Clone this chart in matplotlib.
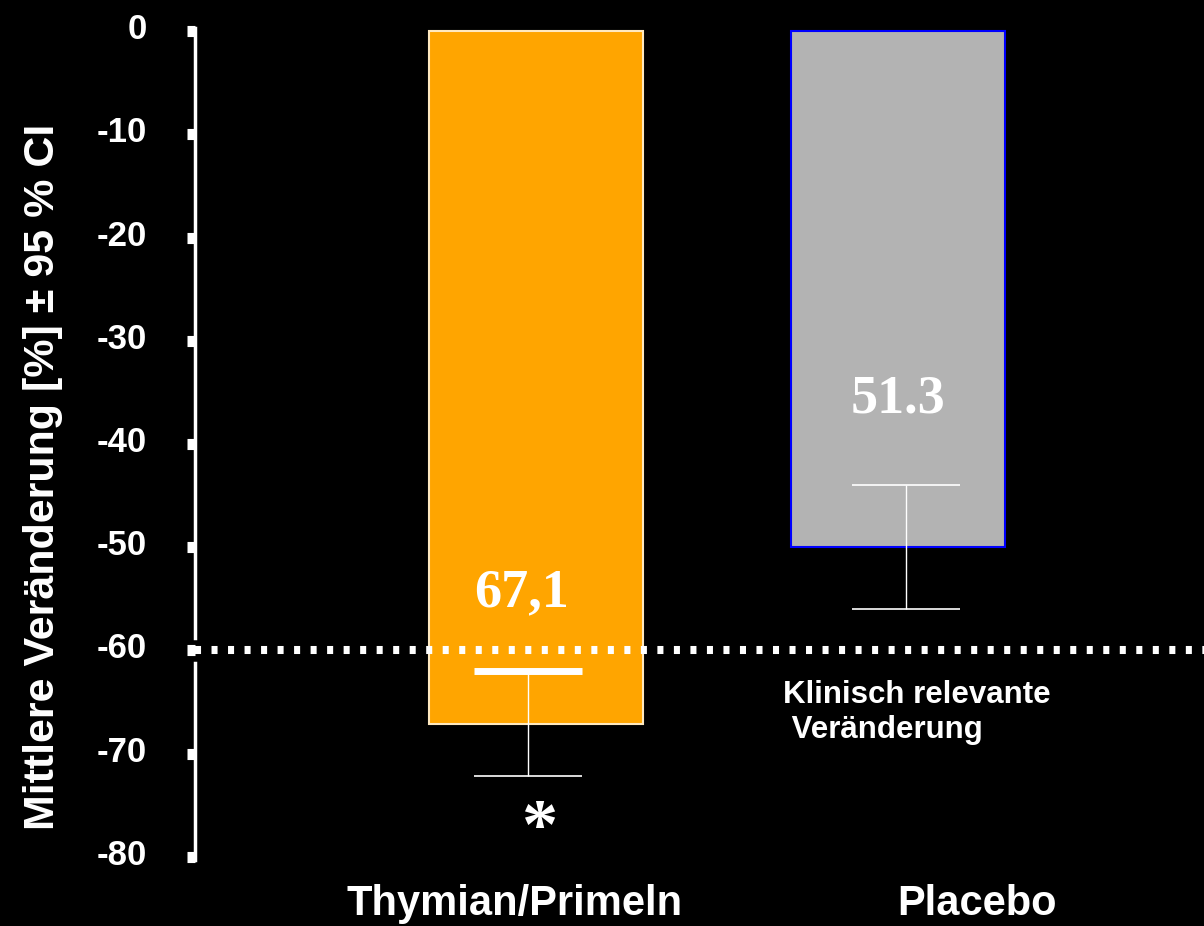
import matplotlib
matplotlib.use('Agg')
import matplotlib.pyplot as plt
import matplotlib.transforms as mtransforms

# data
groups = ['Thymian/Primeln', 'Placebo']
means = [-67.1, -50.0]
ci_high = [-62.0, -44.0]
ci_low = [-72.2, -56.0]
value_labels = ['67,1', '51.3']
bar_colors = ['#FFA500', '#B3B3B3']
edge_colors = ['#FFE9C0', '#0000FF']
yticks = [0, -10, -20, -30, -40, -50, -60, -70, -80]
threshold = -60

plt.rcParams['font.family'] = ['Liberation Sans', 'DejaVu Sans']

fig = plt.figure(figsize=(12.04, 9.26), dpi=100, facecolor='black')
ax = fig.add_axes([0.162, 0.0713, 0.838, 0.8985], facecolor='black')

x = [0, 1]
ax.bar(x, means, width=0.59, color=bar_colors, edgecolor=edge_colors, linewidth=1.5, zorder=2)

# confidence intervals (drawn slightly off the bar centre, as in the original)
ex = [x[0] - 0.022, x[1] + 0.022]
ax.vlines(ex, ci_low, ci_high, color='white', linewidth=1, zorder=3)
ax.hlines(ci_low, [i - 0.15 for i in ex], [i + 0.15 for i in ex], color='white', linewidth=1.2, zorder=3)
ax.hlines(ci_high[0], ex[0] - 0.15, ex[0] + 0.15, color='white', linewidth=5, zorder=3)
ax.hlines(ci_high[1], ex[1] - 0.15, ex[1] + 0.15, color='white', linewidth=1.2, zorder=3)

# clinically relevant threshold
ax.axhline(threshold, color='white', linewidth=5.8, dashes=(0.75, 1.3), zorder=4)

for i, (lab, off) in enumerate(zip(value_labels, [7.5, 8.3])):
    ax.text(x[i] - 0.04 * (1 - i), ci_high[i] + off, lab, color='white', fontsize=39,
            fontweight='bold', family='Liberation Serif', ha='center', va='center', zorder=5)

ax.text(0.683, -62.9, 'Klinisch relevante\n Veränderung', color='white', fontsize=22.5,
        fontweight='bold', ha='left', va='top', linespacing=1.2)
ax.text(0.01, -77.4, '*', color='white', fontsize=52, fontweight='bold', family='Liberation Serif',
        ha='center', va='center')

for xi, lab, off in zip(x, groups, [-0.06, 0.218]):
    ax.text(xi + off, -84.6, lab, color='white', fontsize=30, fontweight='bold',
            ha='center', va='center', clip_on=False)

ax.set_xlim(-0.942, 1.845)
ax.set_ylim(-80.3, 0.3)
ax.set_xticks([])
ax.set_yticks(yticks)
ax.set_yticklabels([str(t) for t in yticks], fontsize=25, fontweight='bold', color='white')
ax.tick_params(axis='y', direction='out', length=6, width=8, color='white', pad=29)
shift = mtransforms.ScaledTranslation(0, 0.05, fig.dpi_scale_trans)
for lbl in ax.get_yticklabels():
    lbl.set_transform(lbl.get_transform() + shift)
for s in ax.spines.values():
    s.set_visible(False)
# left axis line with a gap at the threshold
ax.plot([-0.942, -0.942], [-80.3, threshold - 1.2], color='white', linewidth=2.5, clip_on=False, zorder=1)
ax.plot([-0.942, -0.942], [threshold + 1.2, 0.3], color='white', linewidth=2.5, clip_on=False, zorder=1)

ax.set_ylabel('Mittlere Veränderung [%] ± 95 % CI', fontsize=31, fontweight='bold', color='white')
ax.yaxis.set_label_coords(-0.131, 0.46)

fig.savefig('out.png', dpi=100, facecolor='black')
